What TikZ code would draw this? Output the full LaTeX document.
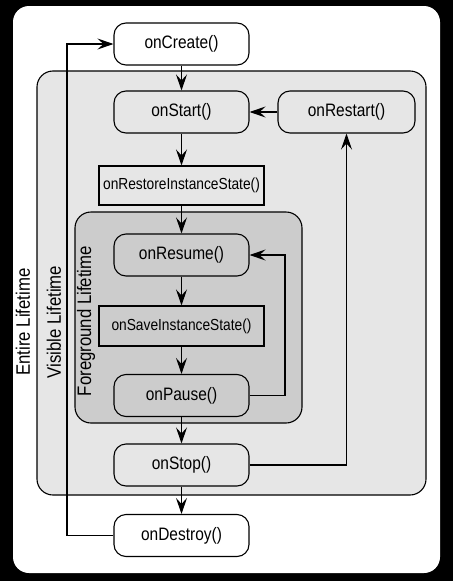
\documentclass[tikz,border=0pt]{standalone}
\usepackage{fontspec}
\setmainfont{Liberation Sans}
\newfontfamily\cbfont[FakeStretch=0.86]{Liberation Sans}
\usetikzlibrary{arrows.meta}
\definecolor{visgray}{HTML}{E6E6E6}
\definecolor{fggray}{HTML}{CCCCCC}
\tikzset{
  cbround/.style={draw, line width=1.1pt, rounded corners=12pt, minimum width=135pt, minimum height=42pt, inner sep=0pt, font=\cbfont\fontsize{18}{20}\selectfont},
  cbrect/.style={draw, line width=1.1pt, minimum width=165pt, minimum height=40pt, inner sep=0pt, font=\cbfont\fontsize{16}{18}\selectfont},
  flow/.style={-{Stealth[length=16pt,width=11pt,inset=6pt]}, line width=1.1pt},
  lifelabel/.style={rotate=90, font=\cbfont\fontsize{19.5}{22}\selectfont}
}
\begin{document}
\begin{tikzpicture}[x=1pt,y=-1pt]
        % Frame and lifetime areas
        \useasboundingbox (0,0) rectangle (453,581);
        \fill[black] (0,0) rectangle (453,581);
        \fill[white, rounded corners=16pt] (13,6) rectangle (440,573);
        \draw[fill=visgray, line width=1.1pt, rounded corners=16pt] (37,71) rectangle (426,495);
        \draw[fill=fggray, line width=1.1pt, rounded corners=16pt] (75,212) rectangle (302,423);
        \node[lifelabel] (entire) at (23,322) {Entire Lifetime};
        \node[lifelabel] (visible) at (54,322) {Visible Lifetime};
        \node[lifelabel] (foreground) at (86,321) {Foreground Lifetime};

        % Callbacks
        \node[cbround, fill=white] (create) at (181.5,44) {onCreate()};
        \node[cbround, fill=visgray] (start) at (181.5,112) {onStart()};
        \node[cbround, fill=visgray, minimum width=137pt] (restart) at (346.5,112) {onRestart()};
        \node[cbrect, fill=visgray, minimum height=39pt] (restore) at (181.5,185.5) {onRestoreInstanceState()};
        \node[cbround, fill=fggray] (resume) at (181.5,255) {onResume()};
        \node[cbrect, fill=fggray] (save) at (181.5,326) {onSaveInstanceState()};
        \node[cbround, fill=fggray] (pause) at (181.5,395.5) {onPause()};
        \node[cbround, fill=visgray] (stop) at (181.5,465) {onStop()};
        \node[cbround, fill=white] (destroy) at (181.5,535.5) {onDestroy()};

        % Transitions
        \draw[flow] (create) -- (start);
        \draw[flow] (start) -- (restore);
        \draw[flow] (restore) -- (resume);
        \draw[flow] (resume) -- (save);
        \draw[flow] (save) -- (pause);
        \draw[flow] (pause) -- (stop);
        \draw[flow] (stop) -- (destroy);
        \draw[flow] (restart) -- (start);
        \draw[flow] (pause.east) -- (285,395.5) |- (resume.east);
        \draw[flow] (stop.east) -| (restart.south);
        \draw[flow] (destroy.west) -- (67,535.5) |- (create.west);
    \end{tikzpicture}
\end{document}
